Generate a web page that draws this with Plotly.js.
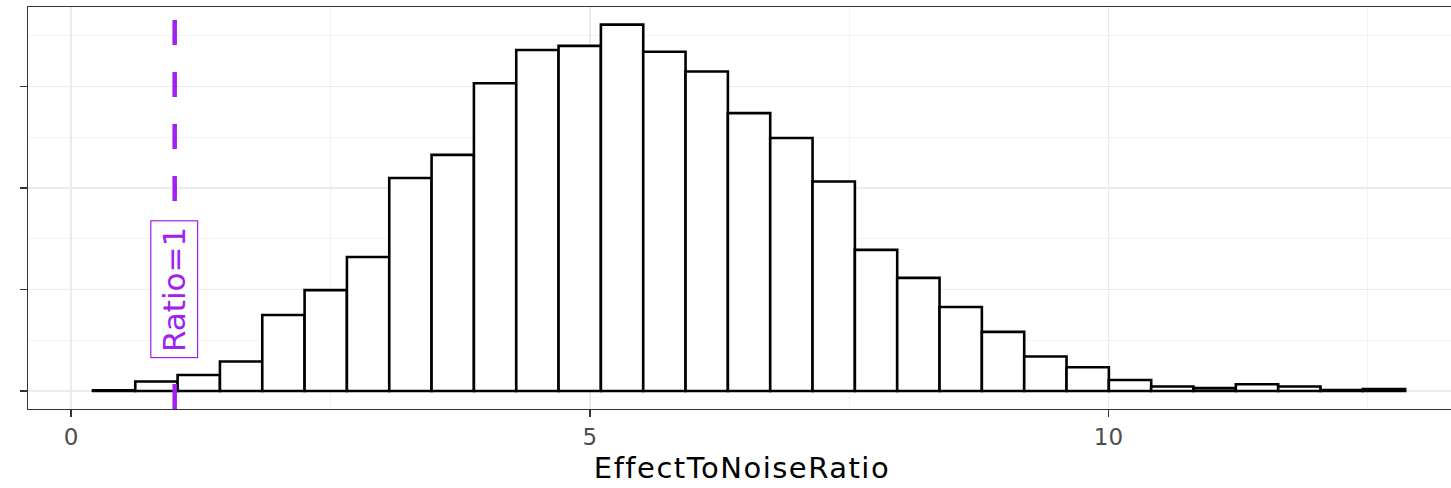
<!DOCTYPE html>
<html>
<head>
<meta charset="utf-8">
<script src="https://cdn.plot.ly/plotly-3.0.1.min.js"></script>
<style>
html,body{margin:0;padding:0;background:#fff;overflow:hidden;}
#chart{width:1462px;height:488px;}
.g-xtitle text{letter-spacing:1.5px;}
</style>
</head>
<body>
<div id="chart"></div>
<script>
// Histogram of EffectToNoiseRatio (counts)
const binStart = 0.212;
const binWidth = 0.408;
const counts = [3, 47, 79, 145, 374, 497, 660, 1049, 1163, 1516, 1680, 1700, 1805, 1671, 1574, 1369, 1246, 1032, 695, 557, 414, 291, 170, 117, 54, 22, 14, 33, 22, 5, 10];
const binCenters = counts.map((_, i) => binStart + binWidth * (i + 0.5));
const xTickVals = [0, 5, 10];
const xTickText = ["0", "5", "10"];
const refX = 1;
const refLabel = "Ratio=1";
const refLabelY = 500;
const xTitle = "EffectToNoiseRatio";
const purple = "#a020f0";

const trace = {
  type: "bar",
  x: binCenters,
  y: counts,
  width: binWidth,
  marker: {color: "#ffffff", line: {color: "#000000", width: 2.6}},
  hoverinfo: "x+y"
};

const layout = {
  width: 1462, height: 488,
  margin: {l: 28, r: 6, t: 7, b: 79},
  paper_bgcolor: "#ffffff", plot_bgcolor: "#ffffff",
  showlegend: false,
  bargap: 0,
  font: {family: "DejaVu Sans", color: "#4d4d4d"},
  xaxis: {
    range: [-0.414, 13.35],
    tickvals: xTickVals, ticktext: xTickText,
    ticks: "outside", ticklen: 7, tickwidth: 1.8, tickcolor: "#333333",
    tickfont: {size: 23, color: "#4d4d4d", family: "DejaVu Sans"},
    showgrid: true, gridcolor: "#ebebeb", gridwidth: 1.8,
    minor: {dtick: 2.5, tick0: 0, showgrid: true, gridcolor: "#f2f2f2", gridwidth: 0.9},
    zeroline: false,
    showline: true, mirror: true, linecolor: "#333333", linewidth: 1.3,
    title: {text: xTitle, font: {size: 29, color: "#000000", family: "DejaVu Sans"}, standoff: 8}
  },
  yaxis: {
    range: [-88.7, 1891.6],
    dtick: 500, tick0: 0,
    showticklabels: false,
    ticks: "outside", ticklen: 7, tickwidth: 1.8, tickcolor: "#333333",
    showgrid: true, gridcolor: "#ebebeb", gridwidth: 1.8,
    minor: {dtick: 250, tick0: 0, showgrid: true, gridcolor: "#f2f2f2", gridwidth: 0.9},
    zeroline: false,
    showline: true, mirror: true, linecolor: "#333333", linewidth: 1.3
  },
  shapes: [{
    type: "line", xref: "x", yref: "paper",
    x0: refX, x1: refX, y0: 0, y1: 1,
    line: {color: purple, width: 4.5, dash: "25px,27px"}
  }],
  annotations: [{
    x: refX, y: refLabelY, xref: "x", yref: "y",
    text: refLabel, showarrow: false, textangle: -90,
    font: {size: 31, color: purple, family: "DejaVu Sans"},
    bgcolor: "#ffffff", bordercolor: purple, borderwidth: 1.2, borderpad: 5
  }]
};

Plotly.newPlot("chart", [trace], layout, {displayModeBar: false, staticPlot: true});
</script>
</body>
</html>
